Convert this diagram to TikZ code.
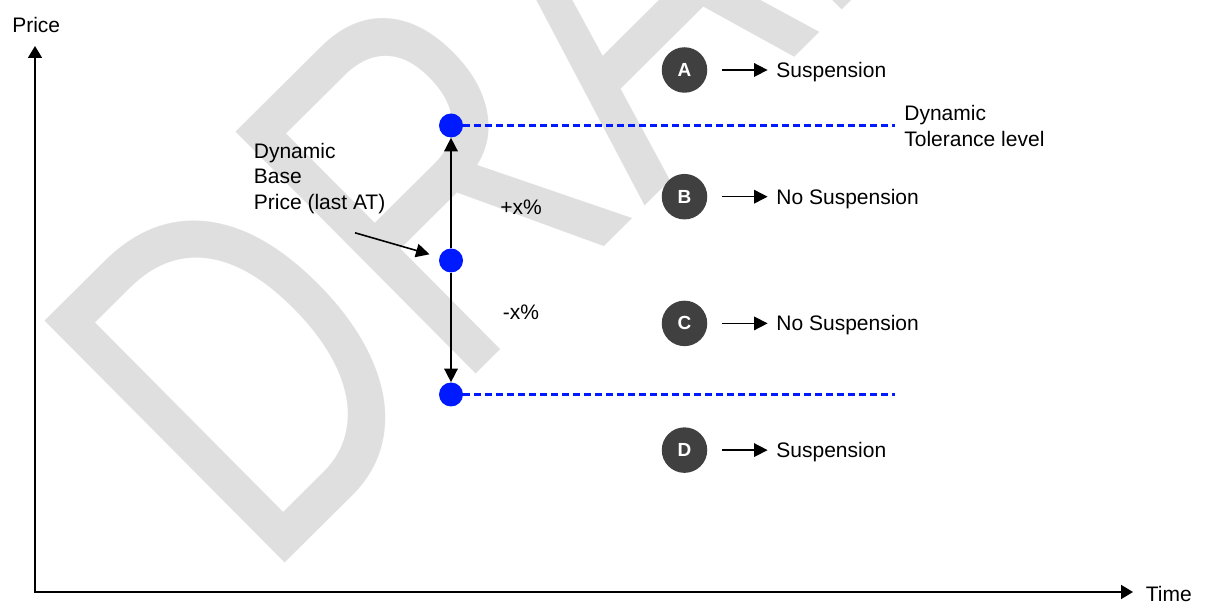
\documentclass[tikz,border=0pt]{standalone}
\usepackage{fontspec}
\setmainfont{Liberation Sans}
\usetikzlibrary{arrows.meta, positioning}
\definecolor{dotblue}{RGB}{0,26,255}
\definecolor{badgegray}{RGB}{64,64,64}
\definecolor{wmark}{RGB}{223,223,223}

\begin{document}
\begin{tikzpicture}[
txt/.style={inner sep=0pt, font=\fontsize{11.95}{14.5}\selectfont},
lbl/.style={txt, text height=8.6pt, text depth=0pt},
dot/.style={circle, fill=dotblue, minimum size=0.48cm, inner sep=0pt},
badge/.style={circle, fill=badgegray, minimum size=0.91cm, inner sep=0pt,
text=white, font=\fontsize{10.8}{12}\selectfont\bfseries},
axis/.style={{Triangle[length=0.24cm, width=0.28cm]}-{Triangle[length=0.24cm, width=0.28cm]},
line width=1pt},
arr/.style={-{Triangle[length=0.27cm, width=0.27cm]}, line width=0.9pt},
tol/.style={dotblue, line width=1.2pt, dash pattern=on 0.14cm off 0.08cm},
node distance=1.37cm
]
\useasboundingbox (0,0) rectangle (24.28,12.04);

% watermark
\begin{scope}
\clip (0,0) rectangle (24.28,12.04);
\node[rotate=44.8, inner sep=0pt, text=wmark,
font=\fontsize{282}{282}\selectfont] (wm) at (11.66,11.50)
{\scalebox{0.75}[1]{DRAFT}};
\end{scope}

% axes
\coordinate (O) at (0.70,0.20);
\coordinate (ytip) at (0.70,11.12);
\coordinate (xtip) at (22.66,0.20);
\draw[axis] (ytip) -- (O) -- (xtip);
\node[txt, anchor=base] (price) at (0.724,11.38) {Price};
\node[txt, anchor=base west] (time) at (22.91,0.006) {Time};

% price levels
\node[dot] (hi) at (9.02,9.53) {};
\node[dot] (base) at (9.02,6.83) {};
\node[dot] (lo) at (9.02,4.15) {};
\coordinate (hiend) at (17.89,9.53);
\coordinate (loend) at (17.89,4.15);
\draw[tol] (hi) -- (hiend);
\draw[tol] (lo) -- (loend);
\draw[arr] (base) -- (hi);
\draw[arr] (base) -- (lo);
\node[txt, anchor=base west] (plus) at (10.0,7.74) {+x\%};
\node[txt, anchor=base west] (minus) at (10.05,5.64) {-x\%};

\node[txt, align=left, anchor=north west] (dbp) at (5.07,9.19)
{Dynamic\\Base\\Price (last AT)};
\coordinate (ptr) at (7.10,7.384);
\draw[arr, shorten >=0.2cm] (ptr) -- (base);

\node[txt, align=left, anchor=north west] (dtl) at (18.08,9.94)
{Dynamic\\Tolerance level};

% zones
\node[badge] (A) at (13.69,10.64) {A};
\node[badge, below=1.61cm of A] (B) {B};
\node[badge, below=1.61cm of B] (C) {C};
\node[badge, below=1.61cm of C] (D) {D};
\node[lbl, right=of A] (sA) {Suspension};
\node[lbl, right=of B] (sB) {No Suspension};
\node[lbl, right=of C] (sC) {No Suspension};
\node[lbl, right=of D] (sD) {Suspension};
\draw[arr, shorten <=0.28cm, shorten >=0.17cm] (A) -- (sA);
\draw[arr, shorten <=0.28cm, shorten >=0.17cm] (B) -- (sB);
\draw[arr, shorten <=0.28cm, shorten >=0.17cm] (C) -- (sC);
\draw[arr, shorten <=0.28cm, shorten >=0.17cm] (D) -- (sD);
\end{tikzpicture}
\end{document}
